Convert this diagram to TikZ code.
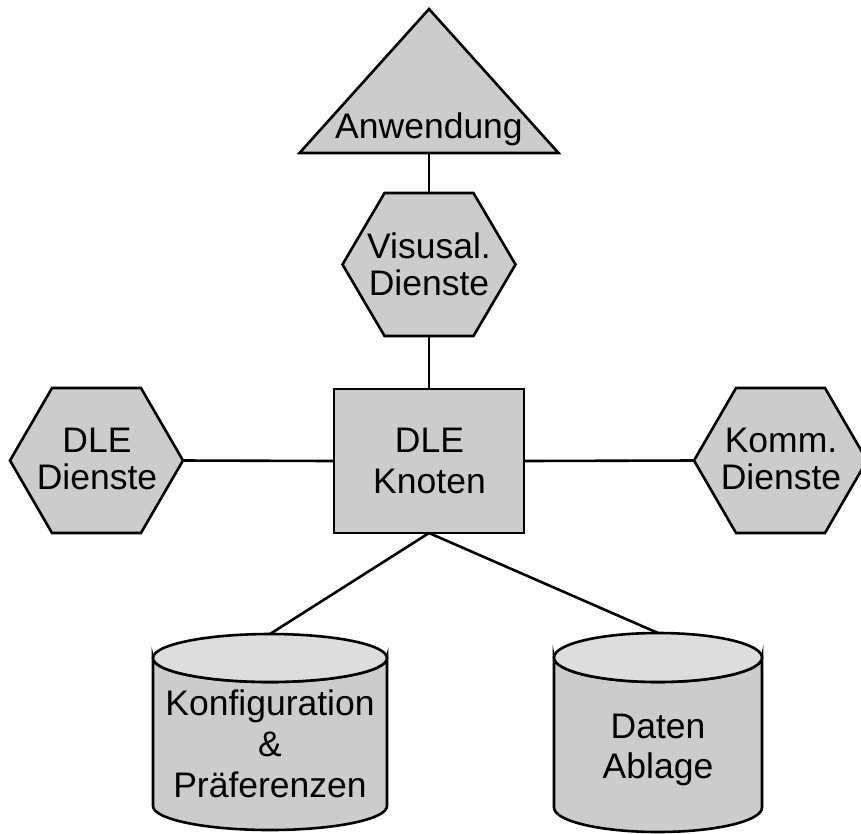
\documentclass[tikz,border=0pt]{standalone}
\usepackage{fontspec}
\setmainfont{Liberation Sans}
\usetikzlibrary{calc}

\definecolor{shapegray}{HTML}{CCCCCC}
\definecolor{capgray}{HTML}{DDDDDD}

\tikzset{
  box/.style={inner sep=0pt, outer sep=0pt, minimum width=#1},
  outline/.style={draw=black, line width=2.6pt, line join=miter, fill=shapegray},
  wire/.style={draw=black, line width=2.6pt},
  hexlabel/.style={align=center, inner sep=0pt, font=\fontsize{35.5}{37}\selectfont},
  blocklabel/.style={align=center, inner sep=0pt, font=\fontsize{35.5}{41}\selectfont},
}

% hexagon drawn inside the bounding box of a node
\newcommand\hexof[1]{%
  \draw[outline] (#1.west)
    -- ($(#1.north west)!0.243!(#1.north east)$)
    -- ($(#1.north east)!0.243!(#1.north west)$)
    -- (#1.east)
    -- ($(#1.south east)!0.243!(#1.south west)$)
    -- ($(#1.south west)!0.243!(#1.south east)$)
    -- cycle;}

% cylinder: node name, x radius, y radius, distance between the ellipse centres
\newcommand\cylof[4]{%
  \draw[outline] (#1.north west) ++(0,-#3) -- ++(0,-#4)
    arc[start angle=180, end angle=360, x radius=#2, y radius=#3]
    -- ++(0,#4)
    arc[start angle=0, end angle=-180, x radius=#2, y radius=#3] -- cycle;
  \draw[outline, fill=capgray] ($(#1.north)+(0,-#3)$) ellipse[x radius=#2, y radius=#3];}

\begin{document}
\begin{tikzpicture}[x=1pt, y=-1pt]
  \clip (0,0) rectangle (861,833);

  % outlines of the blocks (drawn later)
  \node[box=259pt, minimum height=144pt] (app)  at (429,81)    {};
  \node[box=173pt, minimum height=143pt] (vis)  at (429,264.5) {};
  \node[box=190pt, minimum height=144pt] (node) at (429,461)   {};
  \node[box=173pt, minimum height=145pt] (dles) at (96.5,460.5) {};
  \node[box=173pt, minimum height=145pt] (comm) at (780.5,460.5) {};
  \node[box=234pt, minimum height=196pt] (conf) at (270,732)   {};
  \node[box=208pt, minimum height=199pt] (data) at (658,732.5) {};

  % connections
  \draw[wire] (app.south) -- (vis.north);
  \draw[wire] (vis.south) -- (node.north);
  \draw[wire] (dles.east) -- (node.west);
  \draw[wire] (node.east) -- (comm.west);
  \draw[wire] (node.south) -- (conf.north);
  \draw[wire] (node.south) -- (data.north);

  % shapes
  \draw[outline] (app.south west) -- (app.north) -- (app.south east) -- cycle;
  \hexof{vis}
  \hexof{dles}
  \hexof{comm}
  \draw[outline] (node.north west) rectangle (node.south east);
  \cylof{conf}{117pt}{24pt}{148pt}
  \cylof{data}{104pt}{24.5pt}{150pt}

  % labels
  \node[anchor=base, inner sep=0pt, font=\fontsize{35.5}{41}\selectfont] (app-text) at (429,138) {Anwendung};
  \node[hexlabel] (vis-text)  at (429,269.3)  {\strut Visusal.\\\strut Dienste};
  \node[hexlabel] (dles-text) at (97,463.1)   {\strut DLE\\\strut Dienste};
  \node[hexlabel] (comm-text) at (781,463.1)  {\strut Komm.\\\strut Dienste};
  \node[blocklabel] (node-text) at (429.5,464.3) {\strut DLE\\\strut Knoten};
  \node[blocklabel] (conf-text) at (270,747.8) {\strut Konfiguration\\\strut \&\\\strut Präferenzen};
  \node[blocklabel, font=\fontsize{35.5}{40}\selectfont] (data-text) at (658,750.5) {\strut Daten\\\strut Ablage};
\end{tikzpicture}
\end{document}
